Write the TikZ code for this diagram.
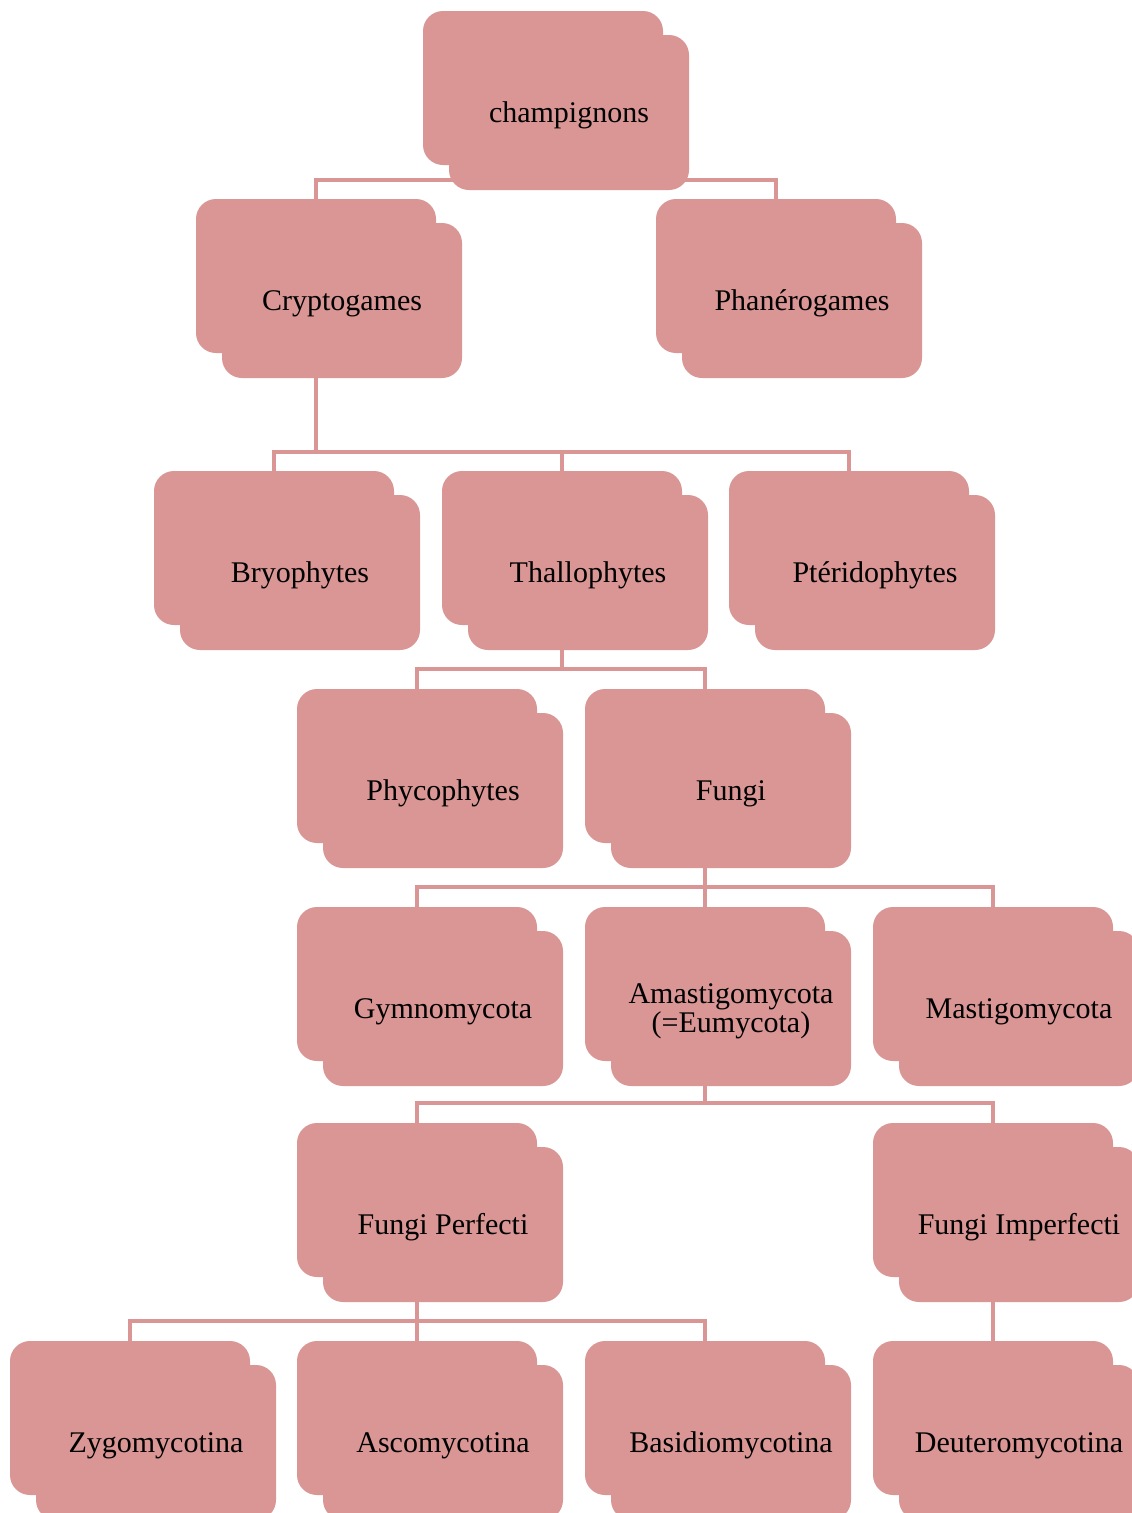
\documentclass[tikz,border=0pt]{standalone}
\usepackage{fontspec}
\setmainfont{Liberation Serif}
\usetikzlibrary{backgrounds}
\definecolor{boxc}{RGB}{217,150,148}
\tikzset{
  backbox/.style={fill=boxc, draw=none, rounded corners=20pt, minimum width=240pt, minimum height=154pt, inner sep=0pt},
  frontbox/.style={fill=boxc, draw=none, rounded corners=20pt, minimum width=240pt, minimum height=155pt, inner sep=0pt},
  labeltext/.style={align=center, inner sep=0pt, font=\fontsize{30}{29.5}\selectfont},
  conn/.style={draw=boxc, line width=4.8pt}
}
\newcommand\fnode[4]{%
  \node[backbox] (#1b) at (#2+120, #3+77) {};
  \node[frontbox] (#1) at (#2+146, #3+101.5) {};
  \node[labeltext] (#1t) at (#2+146, #3+104.5) {#4};}
\begin{document}
\begin{tikzpicture}[x=1pt, y=-1pt]
\useasboundingbox (0,0) rectangle (1132,1513);
\clip (0,0) rectangle (1132,1513);
\fnode{champ}{423}{11}{champignons}
\fnode{crypto}{196}{199}{Cryptogames}
\fnode{phan}{656}{199}{Phanérogames}
\fnode{bryo}{154}{471}{Bryophytes}
\fnode{thallo}{442}{471}{Thallophytes}
\fnode{pterido}{729}{471}{Ptéridophytes}
\fnode{phyco}{297}{689}{Phycophytes}
\fnode{fungi}{585}{689}{Fungi}
\fnode{gymno}{297}{907}{Gymnomycota}
\fnode{amasti}{585}{907}{Amastigomycota\\(=Eumycota)}
\fnode{mastigo}{873}{907}{Mastigomycota}
\fnode{fperf}{297}{1123}{Fungi Perfecti}
\fnode{fimperf}{873}{1123}{Fungi Imperfecti}
\fnode{zygo}{10}{1341}{Zygomycotina}
\fnode{asco}{297}{1341}{Ascomycotina}
\fnode{basidio}{585}{1341}{Basidiomycotina}
\fnode{deutero}{873}{1341}{Deuteromycotina}
\coordinate (bar1) at (0,180);
\coordinate (bar2) at (0,452);
\coordinate (bar3) at (0,669);
\coordinate (bar4) at (0,887);
\coordinate (bar5) at (0,1103);
\coordinate (bar6) at (0,1321);
\begin{scope}[on background layer]
\fill[white] (0,0) rectangle (1132,1513);
\foreach \c in {crypto,phan} \draw[conn] (champb.center) -- (champb.center |- bar1) -| (\c b.north);
\foreach \c in {bryo,thallo,pterido} \draw[conn] (cryptob.center) -- (cryptob.center |- bar2) -| (\c b.north);
\foreach \c in {phyco,fungi} \draw[conn] (thallob.center) -- (thallob.center |- bar3) -| (\c b.north);
\foreach \c in {gymno,amasti,mastigo} \draw[conn] (fungib.center) -- (fungib.center |- bar4) -| (\c b.north);
\foreach \c in {fperf,fimperf} \draw[conn] (amastib.center) -- (amastib.center |- bar5) -| (\c b.north);
\foreach \c in {zygo,asco,basidio} \draw[conn] (fperfb.center) -- (fperfb.center |- bar6) -| (\c b.north);
\draw[conn] (fimperfb.center) -- (deuterob.north);
\end{scope}
\end{tikzpicture}
\end{document}
